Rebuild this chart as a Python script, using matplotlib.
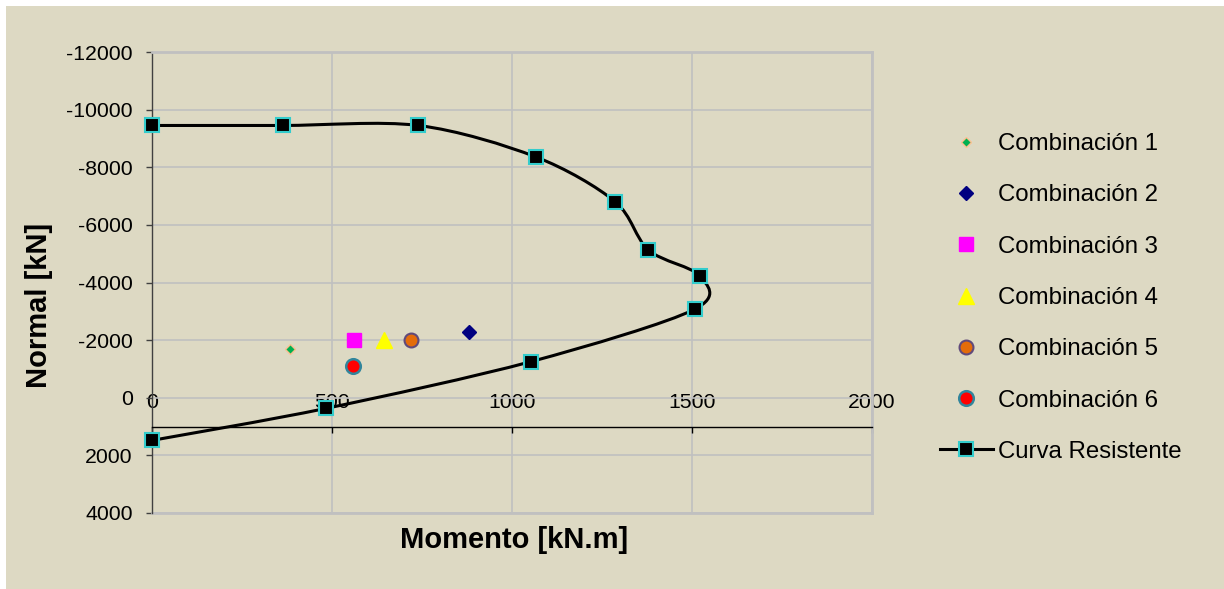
import matplotlib
matplotlib.use("Agg")
import matplotlib.pyplot as plt
from matplotlib.path import Path
from matplotlib.patches import PathPatch, Rectangle
from matplotlib.lines import Line2D
import numpy as np

plt.rcParams['font.family'] = ['Liberation Sans', 'DejaVu Sans']
plt.rcParams['axes.unicode_minus'] = False

# ── Data ──────────────────────────────────────────────────────────────────────
curva_m = [0, 483, 1053, 1507, 1522, 1379, 1286, 1066, 740, 363, 0]
curva_n = [1480, 370, -1255, -3070, -4230, -5125, -6810, -8360, -9450, -9450, -9450]

comb_labels = ["Combinación 1", "Combinación 2", "Combinación 3",
               "Combinación 4", "Combinación 5", "Combinación 6"]
comb_m = [383, 881, 562, 645, 719, 559]
comb_n = [-1700, -2290, -2010, -2000, -1990, -1100]

x_ticks = [0, 500, 1000, 1500, 2000]
y_ticks = [-12000, -10000, -8000, -6000, -4000, -2000, 0, 2000, 4000]

# marker styles per combination
comb_style = [
    dict(marker="D", ms=5.5, mfc="#00B050", mec="#FAC090", mew=1.0),
    dict(marker="D", ms=7.2, mfc="#000080", mec="#000080", mew=1.0),
    dict(marker="s", ms=10, mfc="#FF00FF", mec="#FF00FF", mew=1.0),
    dict(marker="^", ms=11, mfc="#FFFF00", mec="#FFFF00", mew=1.0),
    dict(marker="o", ms=10, mfc="#E46C0A", mec="#604A7B", mew=1.5),
    dict(marker="o", ms=10.5, mfc="#FF0000", mec="#31859C", mew=1.8),
]

BG = "#DDD9C3"
GRID = "#C0C0C0"

fig = plt.figure(figsize=(12.24, 5.89), dpi=100, facecolor="white")
fig.patches.append(Rectangle((6 / 1224, 0), 1, 1 - 6 / 589, transform=fig.transFigure,
                             facecolor=BG, edgecolor="none", zorder=-10))

ax = fig.add_axes([152 / 1224, 1 - 513 / 589, 720 / 1224, 461 / 589])
ax.set_facecolor(BG)
ax.set_xlim(0, 2000)
ax.set_ylim(4000, -12000)

ax.set_xticks(x_ticks)
ax.set_yticks(y_ticks)
ax.grid(True, color=GRID, lw=1.2, zorder=0)
ax.set_axisbelow(True)

for side in ["top", "right"]:
    ax.spines[side].set_color(GRID)
    ax.spines[side].set_linewidth(2)
ax.spines["left"].set_color("#404040")
ax.spines["left"].set_linewidth(1)
ax.spines["bottom"].set_position(("data", 1000))
ax.spines["bottom"].set_color("black")
ax.spines["bottom"].set_linewidth(1)
# bottom border of plot area
ax.plot([0, 1], [0, 0], transform=ax.transAxes, color=GRID, lw=2, clip_on=False, zorder=1)

ax.tick_params(axis="y", direction="out", length=4, width=1, color="#404040",
               pad=10, labelsize=15.3)
ax.tick_params(axis="x", direction="out", length=4, width=1, color="black",
               pad=-28, labelsize=15.3)

# ── Smoothed resistance curve (Excel-style Bezier) ────────────────────────────
pts = np.column_stack([curva_m, curva_n]).astype(float)
n = len(pts)
verts = [tuple(pts[0])]
codes = [Path.MOVETO]
for i in range(n - 1):
    p0 = pts[max(i - 1, 0)]
    p1 = pts[i]
    p2 = pts[i + 1]
    p3 = pts[min(i + 2, n - 1)]
    c1 = p1 + (p2 - p0) / 6.5
    c2 = p2 - (p3 - p1) / 6.5
    verts += [tuple(c1), tuple(c2), tuple(p2)]
    codes += [Path.CURVE4] * 3
ax.add_patch(PathPatch(Path(verts, codes), facecolor="none", edgecolor="black",
                       lw=2.2, zorder=3, clip_on=False))
ax.plot(curva_m, curva_n, ls="none", marker="s", ms=9.5, mfc="black",
        mec="#33CCCC", mew=1.5, zorder=4, clip_on=False)

for m, nn, st in zip(comb_m, comb_n, comb_style):
    ax.plot([m], [nn], ls="none", zorder=5, **st)

ax.set_xlabel("Momento [kN.m]", fontsize=21, fontweight="bold")
ax.xaxis.set_label_coords((514 - 152) / 720, (513 - 540) / 461)
ax.xaxis.label.set_va("center")
ax.set_ylabel("Normal [kN]", fontsize=21, fontweight="bold")
ax.yaxis.set_label_coords((39 - 152) / 720, (513 - 305) / 461)
ax.yaxis.label.set_va("center")

# ── Legend ────────────────────────────────────────────────────────────────────
handles = [Line2D([], [], ls="none", **st) for st in comb_style]
handles.append(Line2D([], [], color="black", lw=2.2, marker="s", ms=9.5,
                      mfc="black", mec="#33CCCC", mew=1.5))
labels = comb_labels + ["Curva Resistente"]
fig.legend(handles, labels, loc="upper left", bbox_to_anchor=(940 / 1224, 1 - 133 / 589),
           frameon=False, fontsize=17.3, labelspacing=1.22, handlelength=2.2,
           handletextpad=0.2, borderaxespad=0, borderpad=0)

fig.savefig("out.png", dpi=100, facecolor="white")
